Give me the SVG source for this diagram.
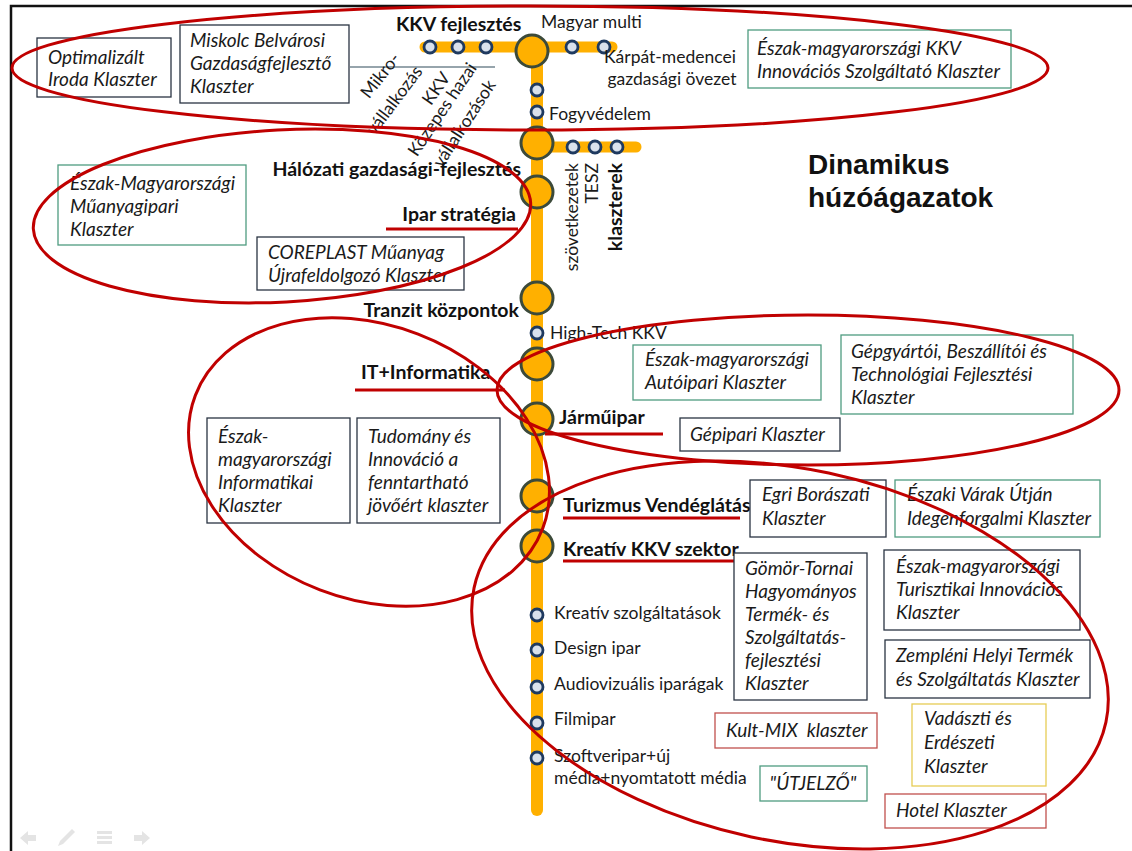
<svg xmlns="http://www.w3.org/2000/svg" width="1132" height="851" viewBox="0 0 1132 851">
<style>
.bx{fill:#fff;stroke-width:1.3}
.dk{stroke:#2a3442}
.gn{stroke:#4f9c80}
.rd{stroke:#c0504d}
.yl{stroke:#e6cc55}
.bt{font-family:Lato,"Liberation Sans",sans-serif;font-style:italic;font-size:19px;fill:#1a1a1a}
.lb{font-family:Lato,"Liberation Sans",sans-serif;font-size:17.5px;fill:#1a1a1a}
.hb{font-family:Lato,"Liberation Sans",sans-serif;font-weight:bold;font-size:19.5px;fill:#111}
.ell{fill:none;stroke:#c00000;stroke-width:3}
.ul{stroke:#c00000;stroke-width:3}
.big{fill:#ffb000;stroke:#3c4a3a;stroke-width:3}
.sm{fill:#d9e1ec;stroke:#1f3a60;stroke-width:2.8}
.trk{stroke:#ffb000;stroke-linecap:round;fill:none}
.ico{fill:#e4e4e4}
</style>
<rect x="0" y="0" width="1132" height="851" fill="#fff"/>
<path d="M11 851 V6 H1132" fill="none" stroke="#111" stroke-width="2.5"/>

<g id="connectors">
  <line class="trk" x1="537" y1="52" x2="537" y2="810" stroke-width="12"/>
  <line class="trk" x1="425" y1="47" x2="612" y2="47" stroke-width="11"/>
  <line class="trk" x1="537" y1="147" x2="636" y2="147" stroke-width="11"/>
  <line x1="350" y1="67" x2="495" y2="67" stroke="#2f4a5a" stroke-width="1.2"/>
</g>

<g id="stations">
  <g id="st-kkv"><circle class="big" cx="532" cy="51" r="16"/><text class="hb" x="396" y="31" font-size="17">KKV fejlesztés</text></g>
  <circle class="sm" cx="430" cy="47" r="6"/>
  <circle class="sm" cx="458" cy="47" r="6"/>
  <circle class="sm" cx="486" cy="47" r="6"/>
  <g id="st-multi"><circle class="sm" cx="572" cy="47" r="6"/><text class="lb" x="541" y="28">Magyar multi</text></g>
  <g id="st-karpat"><circle class="sm" cx="604" cy="47" r="6"/><text class="lb" text-anchor="middle" x="670" y="63">Kárpát-medencei</text><text class="lb" text-anchor="middle" x="672" y="85">gazdasági övezet</text></g>
  <circle class="sm" cx="537" cy="90" r="6"/>
  <g id="st-fogy"><circle class="sm" cx="537" cy="112" r="6"/><text class="lb" x="549" y="120">Fogyvédelem</text></g>
  <g id="st-mikro"><text class="lb" text-anchor="middle" transform="translate(381,76) rotate(-52)" y="5">Mikro-</text><text class="lb" text-anchor="middle" transform="translate(395,101) rotate(-53)" y="5">vállalkozás</text></g>
  <g id="st-kozepes"><text class="lb" text-anchor="middle" transform="translate(437,89) rotate(-55)" y="5">KKV</text><text class="lb" text-anchor="middle" transform="translate(443,110) rotate(-56)" y="5" font-size="18">Közepes hazai</text><text class="lb" text-anchor="middle" transform="translate(465,124) rotate(-57)" y="5" font-size="18">vállalkozások</text></g>
  <g id="st-halozati"><circle class="big" cx="537" cy="143" r="16"/><text class="hb" text-anchor="end" x="521" y="176" font-size="19">Hálózati gazdasági-fejlesztés</text></g>
  <g id="st-szov"><circle class="sm" cx="573" cy="147" r="6"/><text class="lb" text-anchor="end" transform="translate(578,163) rotate(-90)">szövetkezetek</text></g>
  <g id="st-tesz"><circle class="sm" cx="595" cy="147" r="6"/><text class="lb" text-anchor="end" transform="translate(598,163) rotate(-90)">TESZ</text></g>
  <g id="st-klaszterek"><circle class="sm" cx="617" cy="147" r="6"/><text class="hb" text-anchor="end" font-size="20" transform="translate(622,163) rotate(-90)">klaszterek</text></g>
  <g id="st-ipar"><circle class="big" cx="537" cy="192" r="16"/><text class="hb" text-anchor="end" x="516" y="221" font-size="20">Ipar stratégia</text><line class="ul" x1="386" y1="229" x2="518" y2="229"/></g>
  <g id="st-tranzit"><circle class="big" cx="537" cy="298" r="16"/><text class="hb" text-anchor="end" x="519" y="317" font-size="20">Tranzit központok</text></g>
  <g id="st-hightech"><circle class="sm" cx="537" cy="333" r="6"/><text class="lb" x="550" y="339">High-Tech KKV</text></g>
  <g id="st-it"><circle class="big" cx="537" cy="364" r="16"/><text class="hb" x="361" y="379" font-size="20.5">IT+Informatika</text><line class="ul" x1="355" y1="390" x2="505" y2="390"/></g>
  <g id="st-jarmu"><circle class="big" cx="537" cy="419" r="16"/><text class="hb" x="559" y="424" font-size="18.5">Járműipar</text><line class="ul" x1="545" y1="434" x2="663" y2="434"/></g>
  <g id="st-turizmus"><circle class="big" cx="537" cy="496" r="16"/><text class="hb" x="563" y="512">Turizmus Vendéglátás</text><line class="ul" x1="563" y1="518" x2="740" y2="518"/></g>
  <g id="st-kreativ"><circle class="big" cx="537" cy="546" r="16"/><text class="hb" x="563" y="556">Kreatív KKV szektor</text><line class="ul" x1="563" y1="561" x2="748" y2="561"/></g>
  <g id="st-kszolg"><circle class="sm" cx="537" cy="615" r="6"/><text class="lb" x="554" y="619">Kreatív szolgáltatások</text></g>
  <g id="st-design"><circle class="sm" cx="537" cy="650" r="6"/><text class="lb" x="554" y="654">Design ipar</text></g>
  <g id="st-audio"><circle class="sm" cx="537" cy="687" r="6"/><text class="lb" x="554" y="690">Audiovizuális iparágak</text></g>
  <g id="st-film"><circle class="sm" cx="537" cy="723" r="6"/><text class="lb" x="554" y="725">Filmipar</text></g>
  <g id="st-szoftver"><circle class="sm" cx="537" cy="758" r="6"/><text class="lb" x="554" y="762">Szoftveripar+új</text><text class="lb" x="554" y="784">média+nyomtatott média</text></g>
</g>

<g id="title"><text x="808" y="174" font-family="'Liberation Sans',Arial,sans-serif" font-weight="bold" font-size="28" fill="#111">Dinamikus</text><text x="808" y="207" font-family="'Liberation Sans',Arial,sans-serif" font-weight="bold" font-size="28" fill="#111">húzóágazatok</text></g>

<g id="boxes">
  <g id="b-optim"><rect class="bx dk" x="37" y="38" width="134" height="59"/><text class="bt"><tspan x="48" y="64">Optimalizált</tspan><tspan x="48" y="86">Iroda Klaszter</tspan></text></g>
  <g id="b-miskolc"><rect class="bx dk" x="180" y="25" width="169" height="78"/><text class="bt"><tspan x="190" y="47">Miskolc Belvárosi</tspan><tspan x="190" y="70">Gazdaságfejlesztő</tspan><tspan x="190" y="93">Klaszter</tspan></text></g>
  <g id="b-kkvinno"><rect class="bx gn" x="748" y="30" width="263" height="58"/><text class="bt"><tspan x="757" y="55">Észak-magyarországi KKV</tspan><tspan x="757" y="78">Innovációs Szolgáltató Klaszter</tspan></text></g>
  <g id="b-muanyag"><rect class="bx gn" x="58" y="165" width="188" height="80"/><text class="bt"><tspan x="70" y="190">Észak-Magyarországi</tspan><tspan x="70" y="213">Műanyagipari</tspan><tspan x="70" y="236">Klaszter</tspan></text></g>
  <g id="b-coreplast"><rect class="bx dk" x="257" y="237" width="207" height="53"/><text class="bt"><tspan x="268" y="259">COREPLAST Műanyag</tspan><tspan x="268" y="282">Újrafeldolgozó Klaszter</tspan></text></g>
  <g id="b-auto"><rect class="bx gn" x="633" y="345" width="188" height="55"/><text class="bt"><tspan x="645" y="366">Észak-magyarországi</tspan><tspan x="645" y="389">Autóipari Klaszter</tspan></text></g>
  <g id="b-gepgyart"><rect class="bx gn" x="841" y="335" width="232" height="79"/><text class="bt"><tspan x="851" y="358">Gépgyártói, Beszállítói és</tspan><tspan x="851" y="381">Technológiai Fejlesztési</tspan><tspan x="851" y="404">Klaszter</tspan></text></g>
  <g id="b-gepipari"><rect class="bx dk" x="680" y="418" width="160" height="33"/><text class="bt" x="690" y="441">Gépipari Klaszter</text></g>
  <g id="b-informatikai"><rect class="bx dk" x="207" y="418" width="143" height="105"/><text class="bt"><tspan x="218" y="443">Észak-</tspan><tspan x="218" y="466">magyarországi</tspan><tspan x="218" y="489">Informatikai</tspan><tspan x="218" y="512">Klaszter</tspan></text></g>
  <g id="b-tudomany"><rect class="bx dk" x="357" y="418" width="143" height="105"/><text class="bt"><tspan x="368" y="443">Tudomány és</tspan><tspan x="368" y="466">Innováció a</tspan><tspan x="368" y="489">fenntartható</tspan><tspan x="368" y="512">jövőért klaszter</tspan></text></g>
  <g id="b-egri"><rect class="bx dk" x="750" y="480" width="136" height="57"/><text class="bt"><tspan x="762" y="501">Egri Borászati</tspan><tspan x="762" y="525">Klaszter</tspan></text></g>
  <g id="b-varak"><rect class="bx gn" x="895" y="480" width="205" height="57"/><text class="bt"><tspan x="907" y="501">Északi Várak Útján</tspan><tspan x="907" y="525">Idegenforgalmi Klaszter</tspan></text></g>
  <g id="b-gomor"><rect class="bx dk" x="734" y="553" width="133" height="147"/><text class="bt"><tspan x="745" y="575">Gömör-Tornai</tspan><tspan x="745" y="598">Hagyományos</tspan><tspan x="745" y="621">Termék- és</tspan><tspan x="745" y="644">Szolgáltatás-</tspan><tspan x="745" y="667">fejlesztési</tspan><tspan x="745" y="690">Klaszter</tspan></text></g>
  <g id="b-turisztikai"><rect class="bx dk" x="884" y="550" width="196" height="80"/><text class="bt"><tspan x="896" y="573">Észak-magyarországi</tspan><tspan x="896" y="596">Turisztikai Innovációs</tspan><tspan x="896" y="619">Klaszter</tspan></text></g>
  <g id="b-zempleni"><rect class="bx dk" x="885" y="640" width="205" height="58"/><text class="bt"><tspan x="896" y="662">Zempléni Helyi Termék</tspan><tspan x="896" y="686">és Szolgáltatás Klaszter</tspan></text></g>
  <g id="b-kultmix"><rect class="bx rd" x="715" y="713" width="162" height="35"/><text class="bt" x="726" y="737" xml:space="preserve">Kult-MIX  klaszter</text></g>
  <g id="b-vadaszti"><rect class="bx yl" x="912" y="704" width="134" height="82"/><text class="bt"><tspan x="924" y="725">Vadászti és</tspan><tspan x="924" y="749">Erdészeti</tspan><tspan x="924" y="773">Klaszter</tspan></text></g>
  <g id="b-utjelzo"><rect class="bx gn" x="760" y="766" width="107" height="35"/><text class="bt" x="813" y="790" text-anchor="middle">"ÚTJELZŐ"</text></g>
  <g id="b-hotel"><rect class="bx rd" x="885" y="794" width="161" height="34"/><text class="bt" x="896" y="817">Hotel Klaszter</text></g>
</g>

<g id="groups">
  <ellipse class="ell" cx="530" cy="68" rx="518" ry="62"/>
  <ellipse class="ell" cx="282" cy="216" rx="249" ry="86" transform="rotate(-3 282 216)"/>
  <ellipse class="ell" cx="369" cy="462" rx="186" ry="137" transform="rotate(21 369 462)"/>
  <ellipse class="ell" cx="808" cy="390" rx="311" ry="75"/>
  <ellipse class="ell" cx="790" cy="655" rx="323" ry="186" transform="rotate(12 790 655)"/>
</g>

<g id="controls">
  <path class="ico" d="M20 838 l8 -7 v4 h8 v6 h-8 v4 z"/>
  <path class="ico" d="M58 846 l2 -5 l12 -12 l3 3 l-12 12 z"/>
  <path class="ico" d="M97 831 h15 v3 h-15 z M97 836 h15 v3 h-15 z M97 841 h15 v3 h-15 z"/>
  <path class="ico" d="M150 838 l-8 -7 v4 h-8 v6 h8 v4 z"/>
</g>
</svg>
